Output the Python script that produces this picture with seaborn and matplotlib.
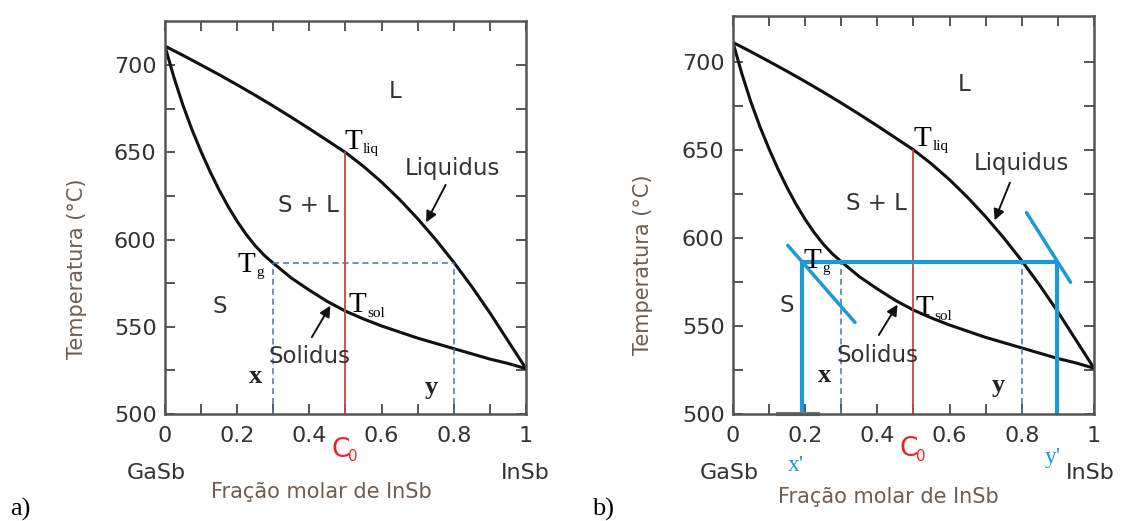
import matplotlib
matplotlib.use("Agg")
import matplotlib.pyplot as plt
import seaborn as sns
import pandas as pd

# phase diagram GaSb-InSb
liq_comp = [0.0, 0.05, 0.1, 0.15, 0.2, 0.25, 0.3, 0.35, 0.4, 0.45, 0.5,
            0.55, 0.6, 0.65, 0.7, 0.75, 0.8, 0.85, 0.9, 0.95, 1.0]
liquidus_T = [711, 705.7, 700.2, 694.6, 688.8, 682.8, 676.6, 670.2, 663.6, 656.8, 650,
              642, 633, 623, 612, 600, 587, 573, 558, 542, 526]
sol_comp = [0.0, 0.025, 0.05, 0.075, 0.1, 0.125, 0.15, 0.175, 0.2, 0.225, 0.25,
            0.275, 0.3, 0.35, 0.4, 0.45, 0.5, 0.55, 0.6, 0.65, 0.7, 0.75,
            0.8, 0.85, 0.9, 0.95, 1.0]
solidus_T = [711, 693, 677, 663, 650.5, 639, 628.5, 619, 610.5, 603, 596.5,
             591, 586.5, 578, 571, 564.5, 559, 554.5, 550.5, 547, 543.5, 540.5,
             537.5, 534.5, 531.5, 529, 526]

c0 = 0.5          # overall composition
T_liq = 650
tie_T = 586.5     # tie line temperature
x_comp = 0.3      # x (solid)
y_comp = 0.8      # y (liquid)
xp_comp = 0.192   # x' in b)
yp_comp = 0.898   # y' in b)
tan_left_x = [0.152, 0.338]
tan_left_T = [595.7, 552.0]
tan_right_x = [0.813, 0.935]
tan_right_T = [614.4, 574.8]

xticks = [0, 0.2, 0.4, 0.6, 0.8, 1]
xtick_labels = ["0", "0.2", "0.4", "0.6", "0.8", "1"]
xminor = [0.1, 0.3, 0.5, 0.7, 0.9]
yticks = [500, 550, 600, 650, 700]
yminor = [525, 575, 625, 675]

sns.set_theme(style="ticks")
plt.rcParams['font.family'] = ['DejaVu Sans']

SERIF = 'Liberation Serif'
BLUE = '#1c9ad6'
DASH = '#4a72b8'
RED = '#c9453f'
LAB = '#6e5d50'
TXT = '#333333'

liq_df = pd.DataFrame({'comp': liq_comp, 'T': liquidus_T})
sol_df = pd.DataFrame({'comp': sol_comp, 'T': solidus_T})

fig = plt.figure(figsize=(11.29, 5.21), dpi=100)
ax_a = fig.add_axes([0.1461, 0.2054, 0.3198, 0.7543])
ax_b = fig.add_axes([0.6492, 0.2054, 0.3198, 0.7639])


def sub_text(ax, x, y, main, sub, color='black', size=21, subsize=11, dx=13.5, dy=-3):
    ax.annotate(main, (x, y), xytext=(0, 0), textcoords='offset points',
                fontsize=size, family=SERIF, color=color, ha='left', va='baseline')
    ax.annotate(sub, (x, y), xytext=(dx, dy), textcoords='offset points',
                fontsize=subsize, family=SERIF, color=color, ha='left', va='baseline')


def panel(ax, top, pos):
    sns.lineplot(data=liq_df, x='comp', y='T', ax=ax, color='#111111', lw=2.2)
    sns.lineplot(data=sol_df, x='comp', y='T', ax=ax, color='#111111', lw=2.2)
    # tie line construction
    ax.plot([x_comp, y_comp], [tie_T, tie_T], color=DASH, lw=1.1, ls=(0, (4, 2.5)))
    ax.plot([x_comp, x_comp], [500, tie_T], color=DASH, lw=1.1, ls=(0, (4, 2.5)))
    ax.plot([y_comp, y_comp], [500, tie_T], color=DASH, lw=1.1, ls=(0, (4, 2.5)))
    ax.plot([c0, c0], [500, T_liq], color=RED, lw=1.3)

    ax.set_xlim(0, 1)
    ax.set_ylim(500, top)
    ax.set_xticks(xticks)
    ax.set_xticklabels(xtick_labels)
    ax.set_xticks(xminor, minor=True)
    ax.set_yticks(yticks)
    ax.set_yticks(yminor, minor=True)
    ax.tick_params(which='both', direction='in', top=True, right=True,
                   length=7, width=1.4, color='#555555')
    ax.tick_params(axis='x', labelsize=16, labelcolor=TXT, pad=9)
    ax.tick_params(axis='y', labelsize=16, labelcolor=TXT, pad=6)
    for s in ax.spines.values():
        s.set_color('#555555')
        s.set_linewidth(1.8)
    ax.set_xlabel('')
    ax.set_ylabel('')

    # region and curve labels
    ax.text(pos['L'][0], pos['L'][1], 'L', fontsize=16.5, ha='center', va='center', color=TXT)
    ax.text(pos['S'][0], pos['S'][1], 'S', fontsize=16.5, ha='center', va='center', color=TXT)
    ax.text(pos['SL'][0], pos['SL'][1], 'S + L', fontsize=16.5, ha='center', va='center', color=TXT)
    ax.text(pos['liq'][0], pos['liq'][1], 'Liquidus', fontsize=16.5, ha='center', va='center', color=TXT)
    ax.text(pos['sol'][0], pos['sol'][1], 'Solidus', fontsize=16.5, ha='center', va='center', color=TXT)
    ax.annotate('', xy=pos['liq_head'], xytext=pos['liq_tail'],
                arrowprops=dict(arrowstyle='-|>', color='#111111', lw=1.4, mutation_scale=16))
    ax.annotate('', xy=pos['sol_head'], xytext=pos['sol_tail'],
                arrowprops=dict(arrowstyle='-|>', color='#111111', lw=1.4, mutation_scale=16))

    sub_text(ax, pos['Tliq'][0], pos['Tliq'][1], 'T', 'liq')
    sub_text(ax, pos['Tg'][0], pos['Tg'][1], 'T', 'g')
    sub_text(ax, pos['Tsol'][0], pos['Tsol'][1], 'T', 'sol')
    ax.text(pos['x'][0], pos['x'][1], 'x', family=SERIF, fontsize=19, fontweight='bold',
            ha='center', va='center', color='#222222')
    ax.text(pos['y'][0], pos['y'][1], 'y', family=SERIF, fontsize=19, fontweight='bold',
            ha='center', va='center', color='#222222')

    # below the axis
    ax.annotate('C', (pos['C0'][0], pos['C0'][1]), fontsize=19, color='#ee2222',
                ha='left', va='center', annotation_clip=False)
    ax.annotate('0', (pos['C0'][0], pos['C0'][1]), xytext=(12.5, -5), textcoords='offset points',
                fontsize=11, color='#ee2222', ha='left', va='center', annotation_clip=False)
    ax.text(pos['GaSb'][0], pos['GaSb'][1], 'GaSb', fontsize=16, ha='center', va='center', color=TXT)
    ax.text(pos['InSb'][0], pos['InSb'][1], 'InSb', fontsize=16, ha='center', va='center', color=TXT)
    ax.text(pos['xlab'][0], pos['xlab'][1], 'Fração molar de InSb', fontsize=15,
            ha='center', va='center', color=LAB)
    ax.text(pos['ylab'][0], pos['ylab'][1], 'Temperatura (°C)', fontsize=15, rotation=90,
            ha='center', va='center', color=LAB, transform=ax.transAxes)


pos_a = dict(L=(0.638, 685), S=(0.152, 561.5), SL=(0.398, 619.7), liq=(0.796, 641),
             sol=(0.40, 533), liq_head=(0.72, 608.5), liq_tail=(0.781, 632.8),
             sol_head=(0.462, 563.5), sol_tail=(0.403, 542.7),
             Tliq=(0.497, 652), Tg=(0.200, 581.5), Tsol=(0.509, 558.3),
             x=(0.25, 521.7), y=(0.737, 515.4), C0=(0.46, 479.4),
             GaSb=(-0.025, 466), InSb=(0.997, 466), xlab=(0.432, 455), ylab=(-0.244, 0.37))
pos_b = dict(L=(0.64, 687), S=(0.15, 561.5), SL=(0.3975, 619.6), liq=(0.80, 642),
             sol=(0.40, 533), liq_head=(0.722, 608.5), liq_tail=(0.77, 632.8),
             sol_head=(0.46, 563.5), sol_tail=(0.40, 543.5),
             Tliq=(0.50, 652), Tg=(0.195, 583), Tsol=(0.505, 556),
             x=(0.255, 521.6), y=(0.735, 516), C0=(0.46, 480),
             GaSb=(-0.01, 466.5), InSb=(0.99, 466.5), xlab=(0.43, 452.7), ylab=(-0.249, 0.374))

panel(ax_a, 725.4, pos_a)
panel(ax_b, 726, pos_b)

# b) lever construction in bright blue
ax_b.plot([xp_comp, yp_comp], [tie_T, tie_T], color=BLUE, lw=3)
ax_b.plot([xp_comp, xp_comp], [500, tie_T], color=BLUE, lw=3)
ax_b.plot([yp_comp, yp_comp], [500, tie_T], color=BLUE, lw=3)
ax_b.plot(tan_left_x, tan_left_T, color=BLUE, lw=2.5)
ax_b.plot(tan_right_x, tan_right_T, color=BLUE, lw=2.5)
ax_b.plot([0.12, 0.24], [500, 500], color='#777777', lw=3, clip_on=False, solid_capstyle='butt')
ax_b.text(0.175, 471, "x'", family=SERIF, fontsize=17, color=BLUE, ha='center', va='center')
ax_b.text(0.885, 475.5, "y'", family=SERIF, fontsize=17, color=BLUE, ha='center', va='center')

fig.text(0.009, 0.0096, 'a)', family=SERIF, fontsize=19, ha='left', va='baseline', color='black')
fig.text(0.524, 0.0096, 'b)', family=SERIF, fontsize=19, ha='left', va='baseline', color='black')

fig.savefig('out.png', dpi=100)
